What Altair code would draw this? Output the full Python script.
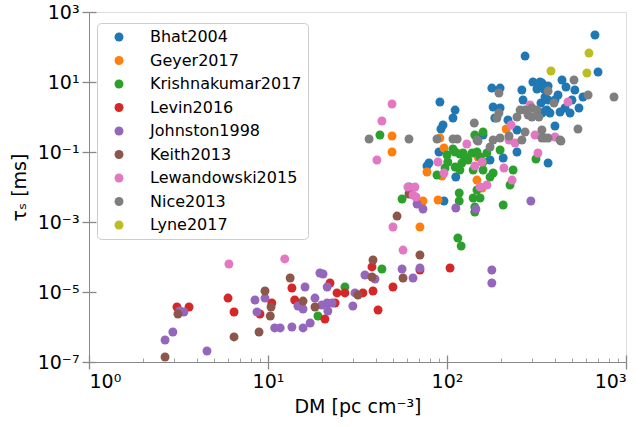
import altair as alt
import pandas as pd

# Scattering timescale tau_s [ms] against dispersion measure DM [pc cm^-3]
SURVEYS = ["Bhat2004", "Geyer2017", "Krishnakumar2017", "Levin2016", "Johnston1998",
           "Keith2013", "Lewandowski2015", "Nice2013", "Lyne2017"]
COLORS = ["#1f77b4", "#ff7f0e", "#2ca02c", "#d62728", "#9467bd",
          "#8c564b", "#e377c2", "#7f7f7f", "#bcbd22"]

# (DM, tau_s) pairs per survey
bhat2004 = [(91.3, 2.68), (111, 1.58), (108, 0.936), (95.0, 0.59), (92.5, 0.454), (159, 0.306),
            (90.2, 0.1), (79.3, 0.0485), (77.3, 0.0398), (112, 0.0193), (61.3, 0.01), (96.2, 0.00398),
            (178, 6.7), (198, 6.7), (181, 1.93), (198, 1.81), (185, 0.936), (246, 0.425), (219, 0.82),
            (262, 5.9), (302, 10), (339, 9.4), (353, 3.73), (362, 1.58), (339, 1.30), (246, 0.1),
            (367, 0.0485), (174, 0.059), (206, 0.0674), (273, 55), (671, 220), (698, 19.3),
            (331, 10), (367, 7.7), (439, 11.4), (518, 5.9), (348, 6.3), (462, 7.2), (318, 6.3),
            (575, 3.73), (401, 3.06), (456, 1.81), (546, 1.81), (335, 2.51), (353, 1.48), (376, 1.30),
            (428, 1.39), (487, 1.30), (401, 0.553), (417, 4.25), (367, 3.06), (499, 3.06), (266, 3.06)]
geyer2017 = [(49.3, 0.287), (49.3, 0.1), (91.3, 0.251), (96.2, 0.13), (77.3, 0.0268), (93.7, 0.0206),
             (73.4, 0.00398), (89.1, 0.00425), (70.6, 7.2e-4), (147, 0.0158), (157, 0.00936),
             (149, 0.072), (214, 0.454)]
krishnakumar2017 = [(42.2, 0.306), (159, 0.373), (143, 0.306), (100, 0.082), (111, 0.1), (118, 0.0877),
                    (126, 0.072), (131, 0.059), (121, 0.0485), (138, 0.0936), (147, 0.1), (153, 0.072),
                    (159, 0.0518), (167, 0.0936), (101, 0.0518), (97.5, 0.0349), (111, 0.0373),
                    (118, 0.0306), (87.9, 0.022), (140, 0.0306), (147, 0.0082), (56.1, 0.00454),
                    (117, 0.00674), (117, 0.00398), (140, 0.00485), (143, 0.00268), (153, 0.00485),
                    (115, 3.49e-4), (120, 2.06e-4), (108, 0.122), (123, 0.0936), (159, 0.0306),
                    (174, 0.0193), (181, 0.0251), (225, 0.0114), (234, 0.0306), (143, 0.00193),
                    (206, 0.00306), (198, 0.114), (314, 0.063), (26.9, 1.39e-5), (19.0, 2.06e-6),
                    (43.3, 4.54e-5)]
levin2016 = [(3.10, 3.73e-6), (3.62, 3.73e-6), (5.98, 6.7e-6), (6.46, 2.68e-6), (9.02, 2.35e-6),
             (10.5, 4.85e-6), (13.6, 1.30e-5), (14.1, 5.9e-6), (20.8, 1.69e-6), (23.7, 4.85e-6),
             (24.3, 9.4e-6), (22.2, 1.81e-5), (26.9, 9.4e-6), (33.9, 9.4e-6), (38.6, 1.07e-5),
             (38.1, 5.2e-5), (41.2, 3.06e-6), (49.9, 1.39e-5), (70.6, 4.25e-5), (104, 4.85e-5)]
johnston1998 = [(2.66, 4.25e-7), (2.94, 7.2e-7), (3.22, 2.87e-6), (3.39, 2.68e-6), (4.56, 2.06e-7),
                (8.46, 5.9e-6), (9.62, 6.7e-6), (8.68, 2.68e-6), (10.9, 9.4e-7), (11.7, 9.4e-7),
                (13.6, 1.0e-6), (15.7, 9.4e-7), (17.2, 1.30e-6), (16.1, 1.39e-5), (14.7, 3.98e-6),
                (15.7, 3.27e-6), (18.3, 6.7e-6), (20.0, 4.25e-6), (21.4, 4.85e-6), (22.8, 4.85e-6),
                (21.6, 2.87e-6), (19.5, 3.49e-5), (20.3, 3.27e-5), (21.4, 1.39e-5), (29.8, 3.98e-6),
                (30.6, 9.4e-6), (34.8, 3.06e-5), (39.6, 2.35e-5), (56.1, 4.54e-5), (64.6, 2.51e-5),
                (70.6, 4.85e-5), (68.0, 0.00327), (73.4, 0.00235), (112, 0.00251), (145, 0.00235),
                (294, 0.00398), (178, 4.25e-5), (178, 1.81e-5)]
keith2013 = [(2.66, 1.39e-7), (3.14, 2.35e-6), (6.46, 5.2e-7), (8.91, 7.2e-7), (9.62, 1.07e-5),
             (10.4, 3.73e-6), (10.3, 2.06e-6), (13.3, 2.51e-5), (15.7, 5.5e-6), (18.3, 3.73e-6),
             (31.8, 8.2e-6), (38.6, 8.2e-5), (38.1, 2.68e-5), (56.8, 2.51e-5), (70.6, 1.14e-4),
             (52.6, 0.00148), (61.3, 0.0063)]
lewandowski2015 = [(6.05, 6.3e-5), (12.4, 8.8e-5), (56.8, 1.58e-4), (49.9, 7.2e-4), (40.6, 0.059),
                   (43.3, 0.768), (49.3, 2.35), (89.1, 0.0518), (96.2, 0.0251), (60.5, 0.01),
                   (66.2, 0.01), (67.1, 0.00518), (64.6, 0.0059), (129, 0.169), (143, 0.0398),
                   (157, 0.0518), (153, 0.01), (167, 0.0114), (208, 0.0349), (231, 0.0158),
                   (228, 0.59), (291, 2.20), (310, 0.306), (222, 0.22), (240, 0.181), (322, 0.0936),
                   (401, 0.268), (474, 2.68)]
nice2013 = [(36.7, 0.235), (61.3, 0.235), (87.9, 0.235), (108, 0.235), (114, 0.235), (142, 0.674),
            (147, 0.22), (195, 4.85), (190, 0.936), (195, 1.30), (256, 1.58), (273, 1.58), (298, 1.81),
            (318, 1.58), (284, 1.14), (246, 1.0), (326, 1.0), (273, 0.373), (353, 0.251), (262, 0.22),
            (149, 0.206), (181, 0.22), (198, 0.251), (222, 0.287), (174, 0.139), (428, 0.22),
            (339, 0.425), (512, 11.4), (367, 5.5), (614, 4.25), (396, 2.51), (298, 1.0), (539, 0.454),
            (367, 0.251), (433, 0.206), (339, 0.251), (857, 3.73)]
lyne2017 = [(381, 20.6), (621, 67), (605, 18.1)]

series = [bhat2004, geyer2017, krishnakumar2017, levin2016, johnston1998,
          keith2013, lewandowski2015, nice2013, lyne2017]

rows = []
for name, pts in zip(SURVEYS, series):
    for dm, tau in pts:
        rows.append({"survey": name, "dm": dm, "tau": tau, "idx": len(rows)})
df = pd.DataFrame(rows)

X_MAJOR = [1, 10, 100, 1000]
X_MINOR = [m * 10 ** e for e in range(0, 3) for m in range(2, 10)]
Y_MAJOR = [1e3, 1e1, 1e-1, 1e-3, 1e-5, 1e-7]

SUP = {"0": "⁰", "1": "¹", "2": "²", "3": "³", "4": "⁴", "5": "⁵",
       "6": "⁶", "7": "⁷", "8": "⁸", "9": "⁹", "-": "⁻"}


def power_label_expr(exponents):
    expr = "''"
    for e in exponents:
        lab = "10" + "".join(SUP[c] for c in str(e))
        expr = f"round(log(datum.value)/LN10) == {e} ? '{lab}' : ({expr})"
    return expr


xscale = alt.Scale(type="log", domain=[1, 1000], nice=False)
yscale = alt.Scale(type="log", domain=[1e-7, 1e3], nice=False)
FONT = "DejaVu Sans"

points = alt.Chart(df).mark_circle(size=80, opacity=1).encode(
    x=alt.X("dm:Q", scale=xscale,
            axis=alt.Axis(values=X_MAJOR, orient="bottom", tickSize=7, tickWidth=1.3,
                          labelExpr=power_label_expr([0, 1, 2, 3]), labelFontSize=19,
                          labelPadding=3, labelFont=FONT, grid=False,
                          title="DM [pc cm⁻³]", titleFontSize=19, titleFont=FONT,
                          titleFontWeight="normal", titlePadding=6)),
    y=alt.Y("tau:Q", scale=yscale,
            axis=alt.Axis(values=Y_MAJOR, orient="left", tickSize=7, tickWidth=1.3,
                          labelExpr=power_label_expr([3, 1, -1, -3, -5, -7]), labelFontSize=19,
                          labelPadding=3, labelFont=FONT, grid=False,
                          title="τₛ [ms]", titleFontSize=19, titleFont=FONT,
                          titleFontWeight="normal", titlePadding=8)),
    color=alt.Color("survey:N", scale=alt.Scale(domain=SURVEYS, range=COLORS),
                    legend=alt.Legend(title=None, orient="none", legendX=8, legendY=11,
                                      symbolType="circle", symbolSize=80, labelFontSize=16,
                                      labelFont=FONT, padding=6, rowPadding=7.5,
                                      symbolOffset=8, labelOffset=23,
                                      fillColor="rgba(255,255,255,0.8)", strokeColor="#cccccc",
                                      cornerRadius=4, symbolStrokeWidth=0, symbolOpacity=1)),
    order=alt.Order("idx:Q"),
)

# inner halves of the major ticks
inner_major = alt.Chart(df).mark_circle(opacity=0).encode(
    x=alt.X("dm:Q", scale=xscale,
            axis=alt.Axis(values=X_MAJOR, orient="bottom", offset=-7, tickSize=7, tickWidth=1.3,
                          labels=False, domain=False, grid=False, title=None)),
    y=alt.Y("tau:Q", scale=yscale,
            axis=alt.Axis(values=Y_MAJOR, orient="left", offset=-7, tickSize=7, tickWidth=1.3,
                          labels=False, domain=False, grid=False, title=None)),
)

# minor ticks on the DM axis, pointing inwards
inner_minor = alt.Chart(df).mark_circle(opacity=0).encode(
    x=alt.X("dm:Q", scale=xscale,
            axis=alt.Axis(values=X_MINOR, orient="bottom", offset=-4, tickSize=4, tickWidth=0.8,
                          labels=False, domain=False, grid=False, title=None)),
    y=alt.Y("tau:Q", scale=yscale,
            axis=alt.Axis(orient="left", labels=False, ticks=False, domain=False, grid=False,
                          title=None)),
)

chart = alt.layer(points, inner_major, inner_minor).resolve_axis(
    x="independent", y="independent"
).properties(
    width=537, height=350,
    autosize=alt.AutoSizeParams(type="none"),
    padding={"left": 89, "top": 12, "right": 15, "bottom": 65},
).configure_axis(
    domainColor="black", tickColor="black", labelColor="black", titleColor="black",
).configure_view(
    stroke="black", strokeWidth=1,
).configure(background="white")

chart.save("out.html", embed_options={"renderer": "svg", "actions": False})
